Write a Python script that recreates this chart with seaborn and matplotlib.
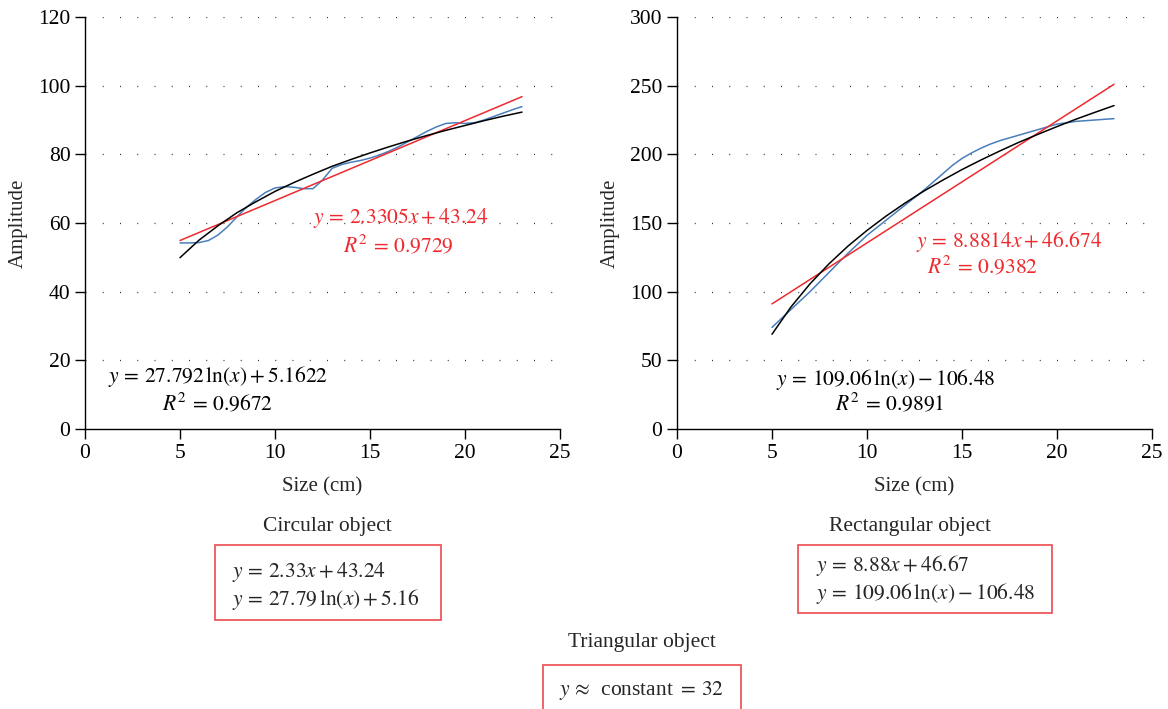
import matplotlib
matplotlib.use("Agg")
import matplotlib.pyplot as plt
from matplotlib.patches import Rectangle
import seaborn as sns

# Circular object: measured curve (blue) and fitted trend lines
circ_size = [5, 5.5, 6, 6.5, 7, 7.5, 8, 8.5, 9, 9.5, 10, 10.5, 11, 11.5, 12, 12.5, 13,
             13.5, 14, 14.5, 15, 15.5, 16, 16.5, 17, 17.5, 18, 18.5, 19, 19.5, 20,
             20.5, 21, 21.5, 22, 22.5, 23]
circ_amp = [54.2, 54.2, 54.3, 54.9, 56.5, 58.9, 61.8, 64.6, 66.9, 68.9, 70.2, 70.6,
            70.4, 70.0, 70.0, 72.5, 75.9, 77.0, 77.7, 78.2, 78.9, 79.8, 80.9, 82.2,
            83.7, 85.2, 86.7, 88.0, 89.0, 89.2, 89.0, 89.2, 90.0, 91.0, 92.0, 93.0, 93.9]

fit_size = [5, 6, 7, 8, 9, 10, 11, 12, 13, 14, 15, 16, 17, 18, 19, 20, 21, 22, 23]
circ_log = [49.9, 55.0, 59.2, 63.0, 66.2, 69.2, 71.8, 74.2, 76.5, 78.5, 80.4, 82.2,
            83.9, 85.5, 87.0, 88.4, 89.8, 91.1, 92.3]
lin_size = [5, 23]
circ_lin = [54.9, 96.8]

# Rectangular object
rect_size = [5, 5.5, 6, 6.5, 7, 7.5, 8, 8.5, 9, 9.5, 10, 10.5, 11, 11.5, 12, 12.5, 13,
             13.5, 14, 14.5, 15, 15.5, 16, 16.5, 17, 17.5, 18, 18.5, 19, 19.5, 20,
             20.5, 21, 21.5, 22, 22.5, 23]
rect_amp = [74, 80.5, 87, 93.5, 100, 107, 114, 121, 128, 134.5, 141, 146.5, 152,
            157.5, 163, 168.5, 174, 180, 186, 192, 197, 201, 204.5, 207.5, 210, 212,
            214, 216, 218, 220, 222, 223, 224, 224.5, 225, 225.5, 226]
rect_log = [69.0, 88.9, 105.7, 120.3, 133.2, 144.6, 155.0, 164.5, 173.3, 181.3, 188.9,
            195.9, 202.5, 208.8, 214.6, 220.2, 225.6, 230.6, 235.5]
rect_lin = [91.1, 251.0]

x_ticks = [0, 5, 10, 15, 20, 25]
circ_yticks = [0, 20, 40, 60, 80, 100, 120]
rect_yticks = [0, 50, 100, 150, 200, 250, 300]

BLUE = "#4a7ebb"
RED = "#ee2a2f"
BOX_RED = "#ec4a4f"

W, H = 1168, 709

sns.set_style("ticks")
plt.rcParams["font.family"] = ["Liberation Serif", "DejaVu Serif"]
plt.rcParams["mathtext.fontset"] = "stix"


def fx(px):
    return px / W


def fy(py):
    return 1 - py / H


def draw_panel(ax, size, amp, log_vals, lin_vals, yticks):
    sns.lineplot(x=size, y=amp, ax=ax, color=BLUE, lw=1.1, sort=False)
    sns.lineplot(x=lin_size, y=lin_vals, ax=ax, color=RED, lw=1.1)
    sns.lineplot(x=fit_size, y=log_vals, ax=ax, color="black", lw=1.1)
    ax.set_xlim(0, 25)
    ax.set_ylim(0, yticks[-1])
    ax.set_xticks(x_ticks)
    ax.set_yticks(yticks)
    for yv in yticks[1:]:
        ax.axhline(yv, color="#333333", lw=0.9, ls=(0, (0.8, 13)), zorder=0)
    sns.despine(ax=ax)
    for s in ["left", "bottom"]:
        ax.spines[s].set_linewidth(1.0)
        ax.spines[s].set_color("black")
    ax.tick_params(direction="out", length=7, width=1.0, labelsize=15.5, colors="black")
    ax.set_xlabel("Size (cm)", fontsize=15)
    ax.set_ylabel("Amplitude", fontsize=15)
    ax.xaxis.set_label_coords(0.5, -0.117)
    ax.yaxis.set_label_coords(-0.121, 0.5)


fig = plt.figure(figsize=(W / 100, H / 100), dpi=100)
ax1 = fig.add_axes([fx(85), fy(429), fx(560) - fx(85), fy(17) - fy(429)])
ax2 = fig.add_axes([fx(677), fy(429), fx(1152) - fx(677), fy(17) - fy(429)])

draw_panel(ax1, circ_size, circ_amp, circ_log, circ_lin, circ_yticks)
draw_panel(ax2, rect_size, rect_amp, rect_log, rect_lin, rect_yticks)

eq = dict(fontsize=15.5, ha="center", va="center")
ax1.text(16.6, 61.5, r"$y\,=\,2.3305x+43.24$", color=RED, **eq)
ax1.text(16.5, 53.3, r"$R^2\,=\,0.9729$", color=RED, **eq)
ax1.text(7.0, 15.4, r"$y\,=\,27.792\,\ln(x)+5.1622$", color="black", **eq)
ax1.text(7.0, 7.3, r"$R^2\,=\,0.9672$", color="black", **eq)

ax2.text(17.5, 136.2, r"$y\,=\,8.8814x+46.674$", color=RED, **eq)
ax2.text(16.1, 118.0, r"$R^2\,=\,0.9382$", color=RED, **eq)
ax2.text(11.0, 36.4, r"$y\,=\,109.06\,\ln(x)-106.48$", color="black", **eq)
ax2.text(11.2, 18.2, r"$R^2\,=\,0.9891$", color="black", **eq)


# summary boxes below the panels
def box(x0, y0, x1, y1):
    fig.add_artist(Rectangle((fx(x0), fy(y1)), fx(x1) - fx(x0), fy(y0) - fy(y1),
                             transform=fig.transFigure, fill=False,
                             edgecolor=BOX_RED, lw=1.2))


fs = 15.5
fig.text(fx(327), fy(527), "Circular object", fontsize=fs, ha="center", va="center")
box(215, 545, 441, 620)
fig.text(fx(232), fy(572), r"$y\,=\,2.33x+43.24$", fontsize=fs, va="center")
fig.text(fx(232), fy(600), r"$y\,=\,27.79\,\ln(x)+5.16$", fontsize=fs, va="center")

fig.text(fx(910), fy(527), "Rectangular object", fontsize=fs, ha="center", va="center")
box(798, 545, 1052, 613)
fig.text(fx(816), fy(565), r"$y\,=\,8.88x+46.67$", fontsize=fs, va="center")
fig.text(fx(816), fy(593), r"$y\,=\,109.06\,\ln(x)-106.48$", fontsize=fs, va="center")

fig.text(fx(642), fy(643), "Triangular object", fontsize=fs, ha="center", va="center")
box(543, 665, 741, 715)
fig.text(fx(642), fy(690), r"$y\,\approx\,$ constant $=\,32$", fontsize=fs,
         ha="center", va="center")

fig.savefig("out.png", dpi=100)
